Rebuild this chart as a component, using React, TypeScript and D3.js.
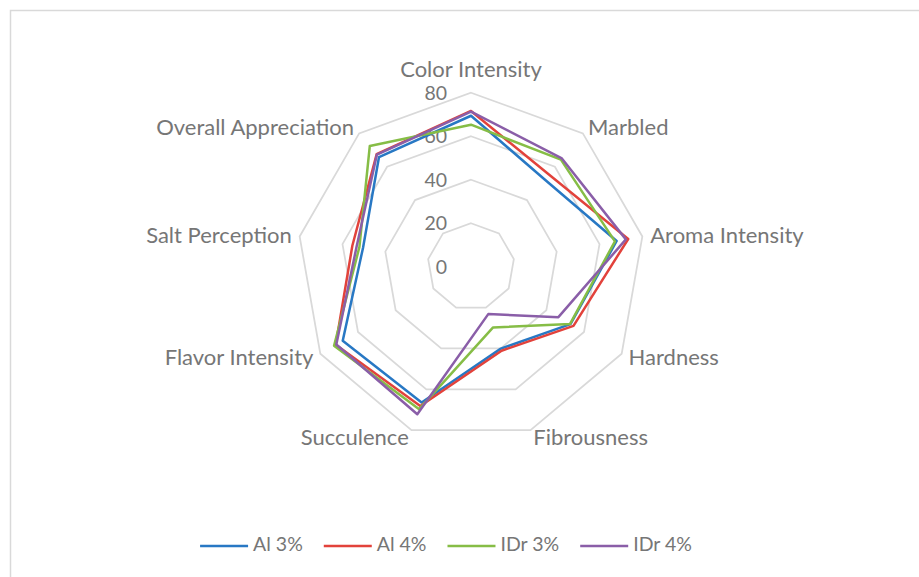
import * as d3 from "d3";
import React, { useRef, useEffect } from "react";

const axes = [
  "Color Intensity",
  "Marbled",
  "Aroma Intensity",
  "Hardness",
  "Fibrousness",
  "Succulence",
  "Flavor Intensity",
  "Salt Perception",
  "Overall Appreciation",
];

const ticks = [0, 20, 40, 60, 80];

const seriesNames = ["Al 3%", "Al 4%", "IDr 3%", "IDr 4%"];
const seriesColors = ["#2878c4", "#e2423b", "#86bd46", "#8a5ea8"];

const al3 = [69.4, 52.5, 68.0, 52.8, 40.1, 66.4, 68.1, 50.4, 65.8];
const al4 = [71.6, 55.5, 73.4, 54.4, 41.1, 68.2, 71.8, 55.4, 67.5];
const idr3 = [65.3, 64.3, 67.2, 52.6, 29.7, 69.7, 72.7, 52.1, 72.4];
const idr4 = [71.3, 65.0, 72.3, 46.4, 23.2, 72.2, 71.5, 53.4, 67.3];

const seriesValues = [al3, al4, idr3, idr4];

const W = 919;
const H = 577;

const RadarChart = () => {
  const svgRef = useRef<SVGSVGElement>(null);

  useEffect(() => {
    const svg = d3.select(svgRef.current);
    svg.selectAll("*").remove();

    const font = "Lato, 'Open Sans', sans-serif";
    const textColor = "#767676";
    const fontSize = 19.5;
    const catFontSize = 22;

    const cx = 471;
    const cy = 266.7;
    const outer = 174;

    // border of the chart area (right and bottom fall outside the picture)
    svg
      .append("rect")
      .attr("x", 10.5)
      .attr("y", 10.5)
      .attr("width", 1000)
      .attr("height", 1000)
      .attr("fill", "#fff")
      .attr("stroke", "#d9d9d9")
      .attr("stroke-width", 1.5);

    const r = d3.scaleLinear().domain([0, 80]).range([0, outer]);
    const angle = d3
      .scaleLinear()
      .domain([0, axes.length])
      .range([0, 2 * Math.PI]);

    const g = svg.append("g").attr("transform", `translate(${cx},${cy})`);

    // grid rings
    const ring = d3
      .lineRadial<number>()
      .angle((_, i) => angle(i))
      .radius((d) => r(d))
      .curve(d3.curveLinearClosed);

    g.selectAll(".ring")
      .data(ticks.filter((t) => t > 0))
      .enter()
      .append("path")
      .attr("class", "ring")
      .attr("d", (t) => ring(axes.map(() => t)))
      .attr("fill", "none")
      .attr("stroke", "#d9d9d9")
      .attr("stroke-width", 1.75);

    // tick labels
    g.selectAll(".tick-label")
      .data(ticks)
      .enter()
      .append("text")
      .attr("class", "tick-label")
      .attr("x", -24)
      .attr("y", (t) => -r(t) + 2)
      .attr("text-anchor", "end")
      .attr("dominant-baseline", "middle")
      .style("font-family", font)
      .style("font-size", fontSize + "px")
      .style("fill", textColor)
      .text((t) => t);

    // category labels
    const labelR = outer + 8;
    g.selectAll(".cat-label")
      .data(axes)
      .enter()
      .append("text")
      .attr("class", "cat-label")
      .attr("x", (_, i) => labelR * Math.sin(angle(i)))
      .attr("y", (_, i) => -labelR * Math.cos(angle(i)) + 2 - (i === 0 ? 15 : 0))
      .attr("text-anchor", (_, i) => {
        const s = Math.sin(angle(i));
        return Math.abs(s) < 0.01 ? "middle" : s > 0 ? "start" : "end";
      })
      .attr("dominant-baseline", "middle")
      .style("font-family", font)
      .style("font-size", catFontSize + "px")
      .style("fill", textColor)
      .text((d) => d);

    // series
    const line = d3
      .lineRadial<number>()
      .angle((_, i) => angle(i))
      .radius((d) => r(d))
      .curve(d3.curveLinearClosed);

    g.selectAll(".series")
      .data(seriesValues)
      .enter()
      .append("path")
      .attr("class", "series")
      .attr("d", (d) => line(d))
      .attr("fill", "none")
      .attr("stroke", (_, i) => seriesColors[i])
      .attr("stroke-width", 2.5)
      .attr("stroke-linejoin", "round");

    // legend, centred under the plot
    const legend = svg.append("g");
    const swatch = 48;
    const gap = 5;
    const spacing = 21;
    const items = legend
      .selectAll(".legend-item")
      .data(seriesNames)
      .enter()
      .append("g")
      .attr("class", "legend-item");

    items
      .append("line")
      .attr("x1", 0)
      .attr("x2", swatch)
      .attr("y1", 0)
      .attr("y2", 0)
      .attr("stroke", (_, i) => seriesColors[i])
      .attr("stroke-width", 2.5);

    items
      .append("text")
      .attr("x", swatch + gap)
      .attr("y", 0)
      .attr("dominant-baseline", "middle")
      .style("font-family", font)
      .style("font-size", fontSize + "px")
      .style("fill", textColor)
      .text((d) => d);

    const widths = items
      .select("text")
      .nodes()
      .map((n) => (n as SVGTextElement).getComputedTextLength());
    const itemW = widths.map((w) => swatch + gap + w);
    const total = d3.sum(itemW) + spacing * (itemW.length - 1);
    let x = 446 - total / 2;
    items.attr("transform", (_, i) => {
      const tx = x;
      x += itemW[i] + spacing;
      return `translate(${tx},546)`;
    });
  }, []);

  return (
    <svg
      ref={svgRef}
      width={W}
      height={H}
      style={{ position: "absolute", left: 0, top: 0, background: "#fff" }}
    />
  );
};

export default function App() {
  return <RadarChart />;
}
